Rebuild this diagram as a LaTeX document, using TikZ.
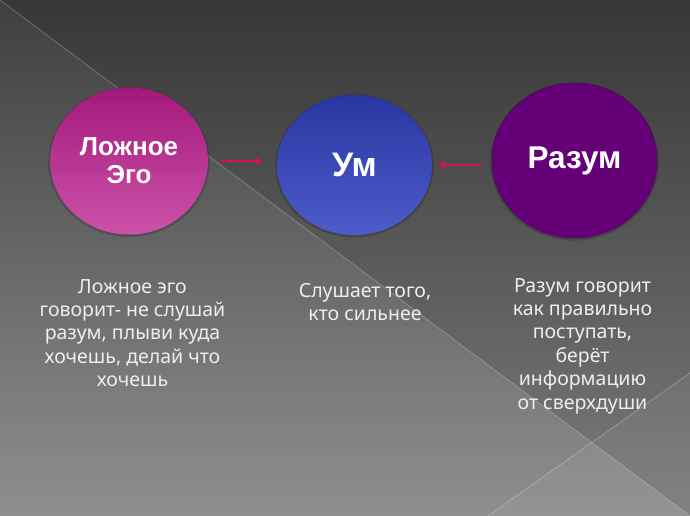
\documentclass[tikz,border=0pt]{standalone}
\usepackage{fontspec}
\setmainfont{Noto Sans}
\newfontfamily\headfont{Liberation Sans}
\usetikzlibrary{shapes.geometric,arrows.meta,shadows}

\definecolor{egopink}{HTML}{A3197B}
\definecolor{egolight}{HTML}{CC52A9}
\definecolor{umblue}{HTML}{2A36A2}
\definecolor{umlight}{HTML}{4C5CC9}
\definecolor{razpurple}{HTML}{660078}
\definecolor{arrowred}{HTML}{D6124F}
\definecolor{captext}{HTML}{EEEEEE}

\begin{document}
\begin{tikzpicture}[
    x=1pt, y=-1pt,
    circ/.style={ellipse, inner sep=0pt, text=white, align=center,
        drop shadow={fill=black, opacity=0.18, shadow xshift=0pt, shadow yshift=-1pt, shadow scale=1.02}},
    arrow/.style={-{Stealth[length=7pt,width=9pt,inset=2pt]}, line width=2.8pt, draw=arrowred},
    caption/.style={anchor=north, inner sep=0pt, align=center, text=captext,
        font=\fontsize{19.5}{23.4}\selectfont}
]

% background
\useasboundingbox (0,0) rectangle (690,516);
\shade[top color=black!75, bottom color=black!44] (0,0) rectangle (690,516);
\fill[black, opacity=0.13] (0,0) -- (690,0) -- (690,516) -- cycle;
\fill[white, opacity=0.05] (690,373) -- (690,516) -- (488,516) -- cycle;
\draw[white, opacity=0.25, line width=0.8pt] (0,0) -- (690,516);
\draw[white, opacity=0.25, line width=0.8pt] (690,373) -- (488,516);

\node[circ, minimum width=158pt, minimum height=147pt, top color=egopink, bottom color=egolight,
    font=\headfont\fontsize{26}{28}\bfseries\selectfont] (LE) at (129,161) {Ложное\\Эго};
\node[circ, minimum width=155pt, minimum height=140pt, top color=umblue, bottom color=umlight,
    font=\headfont\fontsize{34}{36}\bfseries\selectfont] (UM) at (354.5,165) {Ум};
\node[circ, minimum width=165pt, minimum height=155pt, fill=razpurple, draw=razpurple!70!black,
    font=\headfont\fontsize{31.5}{34}\bfseries\selectfont] (RZ) at (574.5,160.5) {Разум};

\draw[arrow, shorten <=12pt, shorten >=15pt] (LE.east) -- (LE.east -| UM.west);
\draw[arrow, shorten <=10pt, shorten >=6pt] (RZ.west |- UM.east) -- (UM.east);

\node[caption] (capLE) at (132.5,279) {Ложное эго\\говорит- не слушай\\разум, плыви куда\\хочешь, делай что\\хочешь};
\node[caption] (capUM) at (365,283) {Слушает того,\\кто сильнее};
\node[caption] (capRZ) at (582.5,278) {Разум говорит\\как правильно\\поступать,\\берёт\\информацию\\от сверхдуши};

\end{tikzpicture}
\end{document}
